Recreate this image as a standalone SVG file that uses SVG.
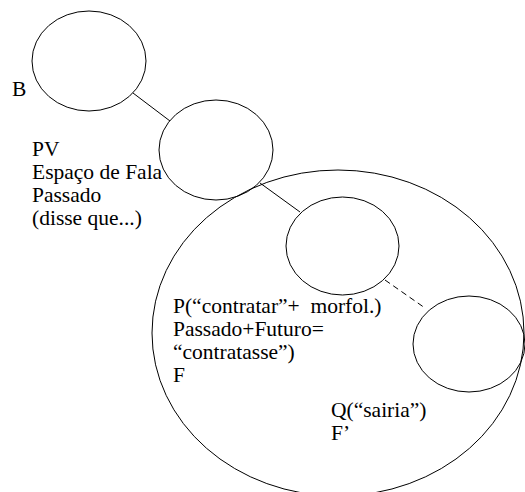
<svg xmlns="http://www.w3.org/2000/svg" width="525" height="492" viewBox="0 0 525 492">
<style>
.n{fill:none;stroke:#000;stroke-width:1}
.c{stroke:#000;stroke-width:1;fill:none}
text{font-family:"Liberation Serif","Times New Roman","DejaVu Serif",serif;font-size:21.5px;fill:#000}
</style>
<rect width="525" height="492" fill="#fff"/>
<g id="connectors">
<line class="c" x1="133" y1="93" x2="170" y2="121"/>
<line class="c" x1="260" y1="183" x2="300" y2="212"/>
<line class="c" x1="385" y1="280" x2="425" y2="308" stroke-dasharray="6,4"/>
</g>
<g id="node-F">
<ellipse class="n" cx="338" cy="333" rx="186" ry="163"/>
<text x="173" y="313" xml:space="preserve">P(“contratar”+  morfol.)</text>
<text x="173" y="336">Passado+Futuro=</text>
<text x="173" y="359">“contratasse”)</text>
<text x="173" y="382">F</text>
</g>
<g id="node-B">
<ellipse class="n" cx="89" cy="61" rx="57" ry="50"/>
<text x="12" y="96">B</text>
</g>
<g id="node-PV">
<ellipse class="n" cx="216" cy="150" rx="57" ry="50"/>
<text x="32" y="156">PV</text>
<text x="32" y="179">Espaço de Fala</text>
<text x="32" y="202">Passado</text>
<text x="32" y="225">(disse que...)</text>
</g>
<g id="node-P">
<ellipse class="n" cx="342.5" cy="246" rx="56.5" ry="49"/>
</g>
<g id="node-Q">
<ellipse class="n" cx="469" cy="344" rx="56" ry="48"/>
<text x="331" y="417">Q(“sairia”)</text>
<text x="331" y="440">F’</text>
</g>
</svg>
